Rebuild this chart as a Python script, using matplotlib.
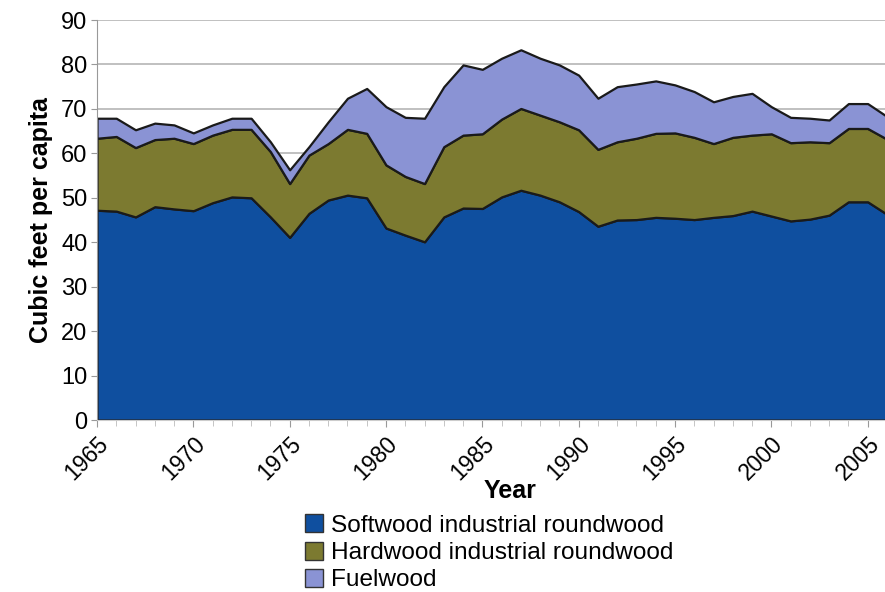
import numpy as np
import matplotlib.pyplot as plt
from matplotlib.patches import Patch
from matplotlib.ticker import MultipleLocator

plt.rcParams['font.family'] = ['Liberation Sans', 'DejaVu Sans']

years = list(range(1965, 2007))

# cumulative tops of each band
softwood_top = [47.2, 47.0, 45.7, 48.0, 47.5, 47.1, 48.9, 50.2, 50.0, 45.7,
                41.1, 46.5, 49.5, 50.6, 50.0, 43.2, 41.6, 40.1, 45.7, 47.7,
                47.6, 50.2, 51.7, 50.6, 49.1, 46.9, 43.6, 45.0, 45.1, 45.6,
                45.4, 45.1, 45.6, 46.0, 47.0, 45.9, 44.8, 45.2, 46.1, 49.1,
                49.1, 46.3]
hardwood_top = [63.4, 63.8, 61.3, 63.1, 63.4, 62.2, 64.1, 65.4, 65.4, 60.4,
                53.2, 59.6, 62.2, 65.4, 64.5, 57.4, 54.8, 53.2, 61.5, 64.1,
                64.4, 67.7, 70.1, 68.6, 67.1, 65.3, 60.9, 62.6, 63.4, 64.5,
                64.6, 63.6, 62.2, 63.6, 64.1, 64.4, 62.4, 62.6, 62.4, 65.6,
                65.6, 63.2]
total_top = [67.9, 67.9, 65.3, 66.8, 66.4, 64.6, 66.4, 67.9, 67.9, 62.6,
             56.3, 61.5, 67.1, 72.4, 74.6, 70.5, 68.1, 67.9, 75.0, 79.9,
             78.9, 81.4, 83.3, 81.4, 79.9, 77.6, 72.4, 75.0, 75.6, 76.3,
             75.4, 73.9, 71.6, 72.8, 73.5, 70.5, 68.1, 67.9, 67.5, 71.2,
             71.2, 68.3]

softwood = np.array(softwood_top)
hardwood = np.array(hardwood_top) - softwood
fuelwood = np.array(total_top) - np.array(hardwood_top)

labels = ['Softwood industrial roundwood', 'Hardwood industrial roundwood', 'Fuelwood']
colors = ['#0f4f9f', '#7c7a30', '#8a93d4']

fig = plt.figure(figsize=(8.85, 5.92), dpi=100)
ax = fig.add_axes([0.1096, 0.2905, 0.8904, 0.6757])

ax.stackplot(years, softwood, hardwood, fuelwood, colors=colors,
             edgecolor='#1a1a1a', linewidth=1.6, zorder=2)

ax.set_xlim(1965, 2005.9)
ax.set_ylim(0, 90)
ax.yaxis.set_major_locator(MultipleLocator(10))
ax.xaxis.set_major_locator(MultipleLocator(5))
ax.xaxis.set_minor_locator(MultipleLocator(1))
ax.grid(axis='y', color='#b5b5b5', linewidth=1.2, zorder=0)
ax.set_axisbelow(True)

for s in ['top', 'right']:
    ax.spines[s].set_visible(False)
ax.spines['left'].set_color('#999999')
ax.spines['bottom'].set_color('#cccccc')

ax.tick_params(axis='y', labelsize=17, length=4, color='#999999', pad=3)
ax.tick_params(axis='x', which='major', labelsize=16.5, length=5, color='#999999', pad=4)
ax.tick_params(axis='x', which='minor', length=4, color='#bbbbbb')
for lbl in ax.get_xticklabels():
    lbl.set_rotation(45)
    lbl.set_ha('right')
    lbl.set_rotation_mode('anchor')

ax.set_ylabel('Cubic feet per capita', fontsize=18, fontweight='bold', labelpad=6)
ax.set_xlabel('Year', fontsize=18, fontweight='bold')
ax.xaxis.set_label_coords(0.524, -0.148)

handles = [Patch(facecolor=c, edgecolor='#333333', linewidth=1.0) for c in colors]
fig.legend(handles, labels, loc='upper left', bbox_to_anchor=(0.331, 0.152),
           frameon=False, fontsize=17.6, handlelength=0.75, handleheight=0.75,
           handletextpad=0.3, labelspacing=0.2, borderpad=0)

fig.savefig('out.png', dpi=100)
